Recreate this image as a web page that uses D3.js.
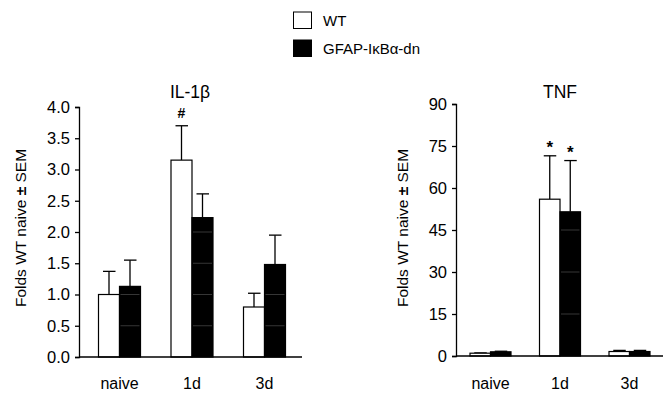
<!DOCTYPE html>
<html>
<head>
<meta charset="utf-8">
<script src="https://cdn.jsdelivr.net/npm/d3@7"></script>
<style>
  body { margin: 0; background: #fff; }
  text { font-family: "Liberation Sans", Arial, sans-serif; fill: #000; }
</style>
</head>
<body>
<div id="Canvas"></div>
<script>
// data
let categories = ["naive", "1d", "3d"]
let series = ["WT", "GFAP-IκBα-dn"]
let seriesColor = ["#fff", "#000"]

let il1bMean = [[1.0, 1.13], [3.15, 2.23], [0.8, 1.48]]
let il1bErr  = [[1.37, 1.55], [3.7, 2.61], [1.02, 1.95]]
let il1bTicks = [0, 0.5, 1.0, 1.5, 2.0, 2.5, 3.0, 3.5, 4.0]
let il1bMarks = [{cat: "1d", s: 0, label: "#"}]

let tnfMean = [[1.0, 1.5], [56, 51.5], [1.6, 1.6]]
let tnfErr  = [[1.1, 1.7], [71.5, 69.8], [2.0, 2.0]]
let tnfTicks = [0, 15, 30, 45, 60, 75, 90]
let tnfMarks = [{cat: "1d", s: 0, label: "*"}, {cat: "1d", s: 1, label: "*"}]

let svg = d3.select("#Canvas")
    .append("svg")
    .attr("width", 671)
    .attr("height", 399)

// legend
let legend = svg.append("g")
series.forEach((s, i) => {
    legend.append("rect")
        .attr("x", 293.5).attr("y", 12 + i * 28)
        .attr("width", 18).attr("height", 16.5)
        .attr("fill", seriesColor[i])
        .attr("stroke", "#000").attr("stroke-width", 1)
    legend.append("text")
        .attr("x", 323).attr("y", 20.5 + i * 28)
        .attr("dy", "0.35em")
        .style("font-size", "15px")
        .text(s)
})

//畫一個面板
function drawPanel(opt) {
    let g = svg.append("g")
    let yScale = d3.scaleLinear()
        .domain([0, opt.max])
        .range([opt.y0, opt.y1])
    let xScale = d3.scalePoint()
        .domain(categories)
        .range([opt.c0, opt.c1])
    let sub = d3.scaleBand()
        .domain([0, 1])
        .range([-opt.bw, opt.bw])

    let rows = []
    categories.forEach((c, i) => {
        series.forEach((s, j) => {
            rows.push({cat: c, s: j, v: opt.mean[i][j], e: opt.err[i][j]})
        })
    })
    // error bars (drawn first, bar covers lower part)
    g.selectAll(".err")
        .data(rows)
        .enter()
        .append("line")
        .attr("x1", d => xScale(d.cat) + sub(d.s) + sub.bandwidth() / 2)
        .attr("x2", d => xScale(d.cat) + sub(d.s) + sub.bandwidth() / 2)
        .attr("y1", d => yScale(d.v))
        .attr("y2", d => yScale(d.e))
        .attr("stroke", "#000").attr("stroke-width", 1.3)
    g.selectAll(".cap")
        .data(rows)
        .enter()
        .append("line")
        .attr("x1", d => xScale(d.cat) + sub(d.s) + sub.bandwidth() / 2 - 6)
        .attr("x2", d => xScale(d.cat) + sub(d.s) + sub.bandwidth() / 2 + 6.5)
        .attr("y1", d => yScale(d.e))
        .attr("y2", d => yScale(d.e))
        .attr("stroke", "#000").attr("stroke-width", 1.3)
    g.selectAll(".bar")
        .data(rows)
        .enter()
        .append("rect")
        .attr("x", d => xScale(d.cat) + sub(d.s))
        .attr("y", d => yScale(d.v))
        .attr("width", sub.bandwidth())
        .attr("height", d => yScale(0) - yScale(d.v))
        .attr("fill", d => seriesColor[d.s])
        .attr("stroke", "#000").attr("stroke-width", 1.2)
    // 黑色柱子上的淡灰格線
    rows.filter(d => d.s == 1).forEach(d => {
        opt.ticks.filter(t => t > 0 && t < d.v).forEach(t => {
            g.append("line")
                .attr("x1", xScale(d.cat) + sub(d.s) + 1)
                .attr("x2", xScale(d.cat) + sub(d.s) + sub.bandwidth() - 1)
                .attr("y1", yScale(t)).attr("y2", yScale(t))
                .attr("stroke", "#444").attr("stroke-width", 0.8)
        })
    })

    // significance marks
    opt.marks.forEach(m => {
        let i = categories.indexOf(m.cat)
        g.append("text")
            .attr("x", xScale(m.cat) + sub(m.s) + sub.bandwidth() / 2)
            .attr("y", yScale(opt.err[i][m.s]) - (m.label == "*" ? 3 : 8))
            .attr("text-anchor", "middle")
            .style("font-size", m.label == "*" ? "17px" : "14px")
            .style("font-weight", "bold")
            .text(m.label)
    })

    // axes
    let yAxis = d3.axisLeft(yScale)
        .tickValues(opt.ticks)
        .tickFormat(opt.fmt)
        .tickSizeOuter(0)
        .tickSize(4)
        .tickPadding(5)
    let ya = g.append("g")
        .attr("transform", `translate(${opt.ax},0)`)
        .call(yAxis)
    ya.attr("font-size", null).attr("font-family", null)
    ya.selectAll("text").style("font-size", "16.5px").attr("fill", "#000")
    ya.selectAll("line, path").attr("stroke", "#000").attr("stroke-width", 1.3)

    g.append("line")
        .attr("x1", opt.ax).attr("x2", opt.axEnd)
        .attr("y1", yScale(0)).attr("y2", yScale(0))
        .attr("stroke", "#000").attr("stroke-width", 1.3)

    g.selectAll(".cat")
        .data(categories)
        .enter()
        .append("text")
        .attr("x", d => xScale(d))
        .attr("y", 389)
        .attr("text-anchor", "middle")
        .style("font-size", "16px")
        .text(d => d)

    // title
    g.append("text")
        .attr("x", opt.tx).attr("y", 98)
        .attr("text-anchor", "middle")
        .style("font-size", "17.5px")
        .text(opt.title)

    // y label
    let yl = g.append("text")
        .attr("transform", `translate(${opt.lx},228) rotate(-90)`)
        .attr("text-anchor", "middle")
        .attr("dy", "0.35em")
        .style("font-size", "15.5px")
    yl.append("tspan").text("Folds WT naive ")
    yl.append("tspan").style("font-weight", "bold").text("±")
    yl.append("tspan").text(" SEM")
}

drawPanel({
    mean: il1bMean, err: il1bErr, ticks: il1bTicks, marks: il1bMarks,
    max: 4, y0: 357, y1: 107, c0: 119.5, c1: 264.5, bw: 21,
    ax: 79, axEnd: 302, fmt: d3.format(".1f"), title: "IL-1β", tx: 190, lx: 21
})
drawPanel({
    mean: tnfMean, err: tnfErr, ticks: tnfTicks, marks: tnfMarks,
    max: 90, y0: 356, y1: 104, c0: 490.5, c1: 629.5, bw: 20.5,
    ax: 456, axEnd: 663, fmt: d3.format("d"), title: "TNF", tx: 560, lx: 403
})
</script>
</body>
</html>
